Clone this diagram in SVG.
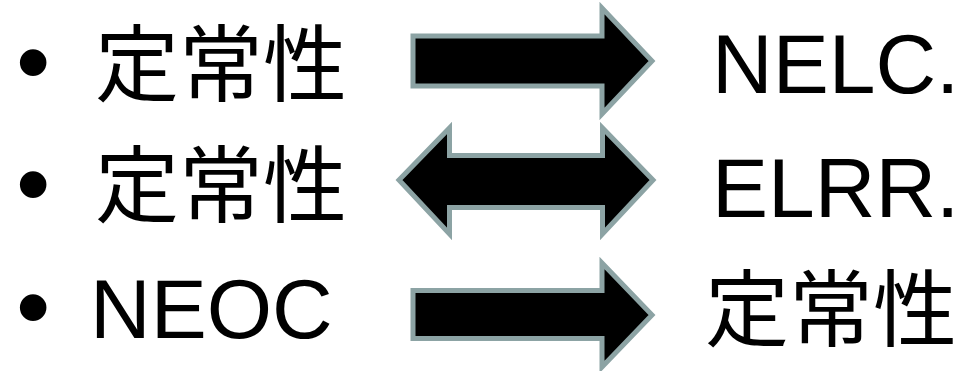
<svg xmlns="http://www.w3.org/2000/svg" width="967" height="371" viewBox="0 0 967 371">
<style>
.t{font-family:"Liberation Sans","Noto Sans CJK JP",Arial,sans-serif;font-size:84px;fill:#000}
.b{font-family:"Liberation Sans",Arial,sans-serif;font-size:98px;fill:#000}
.j{font-family:"Noto Sans CJK JP","Noto Sans CJK SC",sans-serif;font-size:84px;fill:#000}
.a{fill:#000;stroke:#8ca3a4;stroke-width:5;stroke-linejoin:miter}
</style>
<rect width="967" height="371" fill="#fff"/>
<g id="row1-left">
<text class="b" x="16" y="95">•</text>
<text class="j" x="95" y="95">定常性</text>
</g>
<g id="row2-left">
<text class="b" x="16" y="217">•</text>
<text class="j" x="95" y="216">定常性</text>
</g>
<g id="row3-left">
<text class="b" x="16" y="340">•</text>
<text class="t" x="90" y="338">NEOC</text>
</g>
<g id="row1-right"><text class="t" x="712" y="93">NELC.</text></g>
<g id="row2-right"><text class="t" x="712" y="217">ELRR.</text></g>
<g id="row3-right"><text class="j" x="705" y="340">定常性</text></g>
<g id="connectors">
<path class="a" d="M413,36 L602,36 L602,8 L652,61 L602,114 L602,86 L413,86 Z"/>
<path class="a" d="M399,180 L449.5,128 L449.5,155.5 L602.5,155.5 L602.5,128 L653,180 L602.5,234 L602.5,207.5 L449.5,207.5 L449.5,234 Z"/>
<path class="a" d="M413,290.5 L602,290.5 L602,263 L652,315 L602,367 L602,338.5 L413,338.5 Z"/>
</g>
</svg>
